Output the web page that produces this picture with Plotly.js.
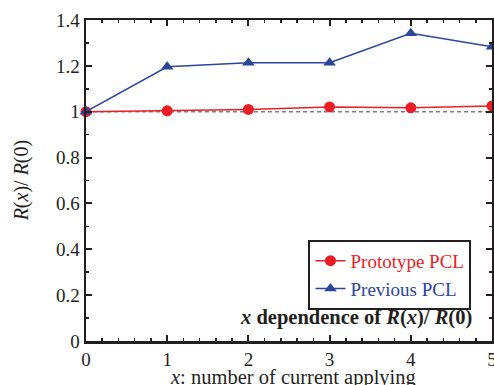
<!DOCTYPE html>
<html><head><meta charset="utf-8">
<script src="https://cdn.plot.ly/plotly-3.0.1.min.js"></script>
<style>html,body{margin:0;padding:0;background:#fff}#c{width:494px;height:385px}</style>
</head><body>
<div id="c"></div>
<script>
const xValues = [0, 1, 2, 3, 4, 5];
const prototypePCL = [1.0, 1.004, 1.010, 1.021, 1.017, 1.025];
const previousPCL = [1.0, 1.196, 1.214, 1.214, 1.342, 1.283];
const refLine = [1, 1];
const refX = [0, 5];

const font = 'Liberation Serif';
const ink = '#231f20';
const red = '#ec1c24';
const blue = '#2b459b';

const traces = [
  {x: refX, y: refLine, mode: 'lines', line: {color: '#808080', width: 1.5, dash: '4px,3px'}, showlegend: false, hoverinfo: 'skip'},
  {x: xValues, y: prototypePCL, mode: 'lines+markers', name: '<span style="color:' + red + '">Prototype PCL</span>',
   line: {color: red, width: 1.5}, marker: {symbol: 'circle', size: 11, color: red}, cliponaxis: false},
  {x: xValues, y: previousPCL, mode: 'lines+markers', name: '<span style="color:' + blue + '">Previous PCL</span>',
   line: {color: blue, width: 1.5}, marker: {symbol: 'triangle-up', size: 11, color: blue}, cliponaxis: false}
];

const axisCommon = {
  showgrid: false, zeroline: false, showline: true, linecolor: ink, linewidth: 2.5,
  mirror: 'ticks', ticks: 'inside', ticklen: 6, tickwidth: 2, tickcolor: ink,
  ticklabeloverflow: 'allow'
};

const layout = {
  width: 494, height: 385,
  margin: {l: 86, r: 2, t: 20, b: 44},
  paper_bgcolor: '#fff', plot_bgcolor: '#fff',
  font: {family: font, size: 19, color: ink},
  showlegend: true,
  legend: {x: 0.548, y: 0.315, xanchor: 'left', yanchor: 'top', bordercolor: ink, borderwidth: 2,
           bgcolor: '#fff', tracegroupgap: 0},
  xaxis: Object.assign({}, axisCommon, {
    range: [0, 5], dtick: 1, tick0: 0,
    minor: {dtick: 0.2, ticks: 'inside', ticklen: 3, tickwidth: 1.5, tickcolor: ink}
  }),
  yaxis: Object.assign({}, axisCommon, {
    range: [0, 1.4], dtick: 0.2, tick0: 0,
    minor: {dtick: 0.1, ticks: 'inside', ticklen: 3, tickwidth: 1.5, tickcolor: ink}
  }),
  annotations: [
    {xref: 'paper', yref: 'paper', x: 0.956, y: 0.072, xanchor: 'right', yanchor: 'middle', showarrow: false,
     font: {size: 20.5}, text: '<b><i>x</i> dependence of <i>R</i>(<i>x</i>)/ <i>R</i>(0)</b>'},
    {xref: 'paper', yref: 'paper', x: 0.509, y: -0.114, xanchor: 'center', yanchor: 'middle', showarrow: false,
     font: {size: 20.5}, text: '<i>x</i>: number of current applying'},
    {xref: 'paper', yref: 'paper', x: -0.158, y: 0.5, xanchor: 'center', yanchor: 'middle', showarrow: false, textangle: -90,
     font: {size: 20}, text: '<i>R</i>(<i>x</i>)/ <i>R</i>(0)'}
  ]
};

Plotly.newPlot('c', traces, layout, {staticPlot: true, displayModeBar: false});
</script></body></html>
